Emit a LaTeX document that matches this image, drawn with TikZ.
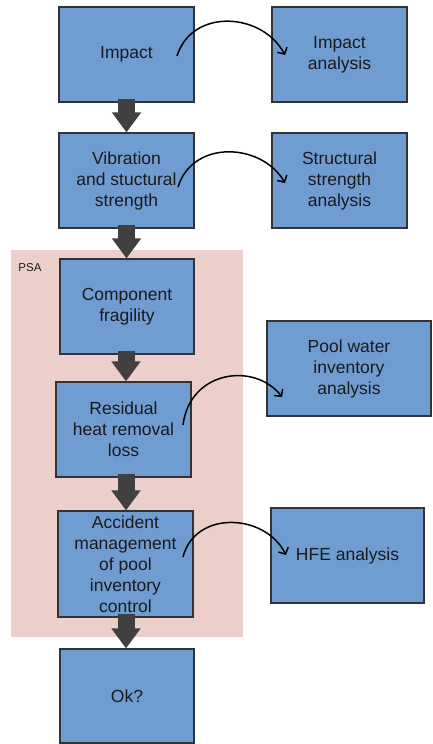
\documentclass[tikz,border=0pt]{standalone}
\usepackage{fontspec}
\setmainfont{Liberation Sans}
\usetikzlibrary{arrows.meta,calc}
\definecolor{boxblue}{RGB}{111,157,210}
\definecolor{boxline}{RGB}{51,51,51}
\definecolor{psapink}{RGB}{236,206,203}
\definecolor{arrowgray}{RGB}{64,64,64}
\definecolor{txt}{RGB}{26,26,26}
\begin{document}
\begin{tikzpicture}[x=1pt,y=1pt,
 box/.style={draw=boxline, line width=1.2pt, fill=boxblue, align=center, inner sep=0pt,
   font=\fontsize{17.5}{21}\selectfont, text=txt, minimum width=135pt, minimum height=95pt},
 psabox/.style={fill=psapink, draw=none, inner sep=0pt, anchor=north west},
 bigarrow/.style={draw=arrowgray, line width=17pt, -{Triangle[length=20pt,width=28pt]}},
 curvearrow/.style={draw=black, line width=1.5pt, -{Straight Barb[length=5pt,width=11pt]}},
]
\useasboundingbox (0,0) rectangle (432,-744);
% PSA region
\node[psabox, minimum width=232pt, minimum height=387pt] (psa) at (11,-250) {};
\node[font=\fontsize{11.5}{13}\selectfont, text=txt] (psalabel) at (30,-268) {PSA};
% main column
\node[box] (imp) at (126.5,-54.5) {Impact};
\node[box] (vib) at (126.5,-180.5) {Vibration\\and stuctural\\strength};
\node[box, minimum width=134pt] (comp) at (127,-306.5) {Component\\fragility};
\node[box] (resid) at (123.5,-429.5) {Residual\\heat removal\\loss};
\node[box, minimum height=106pt] (acc) at (125.5,-564) {Accident\\management\\of pool\\inventory\\control};
\node[box, minimum width=134pt, minimum height=94pt] (ok) at (127,-696) {Ok?};
% analysis column
\node[box] (impa) at (339.5,-54.5) {Impact\\analysis};
\node[box] (struct) at (339.5,-180.5) {Structural\\strength\\analysis};
\node[box, minimum width=164pt] (pool) at (349,-368.5) {Pool water\\inventory\\analysis};
\node[box, minimum width=153pt] (hfe) at (347.5,-555.5) {HFE analysis};
% block arrows
\draw[bigarrow] ([yshift=4pt]imp.south) -- (imp.south |- vib.north);
\draw[bigarrow] ([yshift=4pt]vib.south) -- (vib.south |- comp.north);
\draw[bigarrow] ([xshift=-1pt,yshift=4pt]comp.south) -- ([xshift=-1pt]comp.south |- resid.north);
\draw[bigarrow] ([xshift=2.5pt,yshift=4pt]resid.south) -- ([xshift=2.5pt]resid.south |- acc.north);
\draw[bigarrow] ([xshift=0.5pt,yshift=4pt]acc.south) -- ([xshift=0.5pt]acc.south |- ok.north);
% curved arrows
\coordinate (c1s) at (177,-56);
\coordinate (c1e) at (285,-55);
\draw[curvearrow] (c1s) .. controls (192,-8) and (262,-12) .. (c1e);
\coordinate (c2s) at (178,-187);
\coordinate (c2e) at (285,-183);
\draw[curvearrow] (c2s) .. controls (193,-139) and (262,-143) .. (c2e);
\coordinate (c3s) at (183,-425);
\coordinate (c3e) at (282,-397);
\draw[curvearrow] (c3s) .. controls (190,-370) and (255,-362) .. (c3e);
\coordinate (c4s) at (183,-557);
\coordinate (c4e) at (286,-555);
\draw[curvearrow] (c4s) .. controls (195,-510) and (265,-513) .. (c4e);
\end{tikzpicture}
\end{document}
